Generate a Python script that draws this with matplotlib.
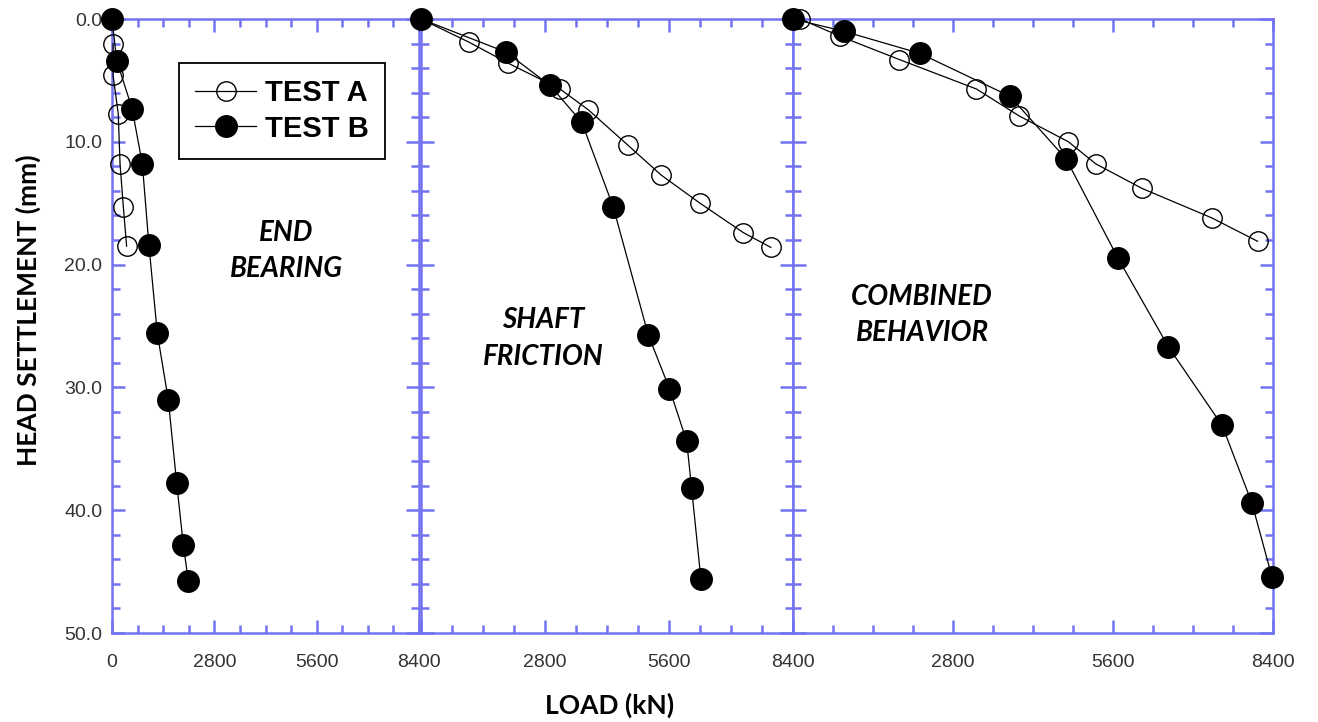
import matplotlib.pyplot as plt
from matplotlib.ticker import MultipleLocator, FixedLocator, FixedFormatter

# load (kN) and head settlement (mm)
eb_load_a = [30, 30, 170, 220, 310, 400]
eb_set_a = [2.0, 4.6, 7.7, 11.8, 15.3, 18.5]
eb_load_b = [0, 130, 550, 830, 1010, 1240, 1540, 1770, 1950, 2090]
eb_set_b = [0.0, 3.4, 7.3, 11.8, 18.4, 25.6, 31.0, 37.8, 42.8, 45.8]

sf_load_a = [0, 1090, 1970, 3140, 3780, 4680, 5420, 6300, 7280, 7900]
sf_set_a = [0.0, 1.9, 3.6, 5.7, 7.4, 10.3, 12.7, 15.0, 17.4, 18.6]
sf_load_b = [0, 1920, 2910, 3630, 4340, 5130, 5610, 6000, 6110, 6320]
sf_set_b = [0.0, 2.7, 5.4, 8.4, 15.3, 25.7, 30.1, 34.4, 38.2, 45.6]

cb_load_a = [130, 820, 1860, 3210, 3960, 4820, 5300, 6110, 7330, 8130]
cb_set_a = [0.0, 1.4, 3.3, 5.7, 7.9, 10.0, 11.8, 13.8, 16.2, 18.1]
cb_load_b = [0, 890, 2220, 3800, 4780, 5690, 6570, 7510, 8030, 8380]
cb_set_b = [0.0, 1.0, 2.8, 6.3, 11.4, 19.5, 26.7, 33.1, 39.4, 45.4]

panels = [
    (eb_load_a, eb_set_a, eb_load_b, eb_set_b, 'END\nBEARING', 4760, 18.9),
    (sf_load_a, sf_set_a, sf_load_b, sf_set_b, 'SHAFT\nFRICTION', 2760, 26.0),
    (cb_load_a, cb_set_a, cb_load_b, cb_set_b, 'COMBINED\nBEHAVIOR', 2260, 24.1),
]
xticks = [0, 2800, 5600, 8400]
yticks = [0, 10, 20, 30, 40, 50]

W, H = 1318, 722
blue = '#7373f2'
lefts = [112, 421, 793]
widths = [307, 372, 480]
top, bottom = 19, 633

fig = plt.figure(figsize=(W / 100, H / 100), dpi=100)
fig.patch.set_facecolor('white')

for i, (la, sa, lb, sb, note, nx, ny) in enumerate(panels):
    ax = fig.add_axes([lefts[i] / W, 1 - bottom / H, widths[i] / W, (bottom - top) / H])
    ax.plot(la, sa, '-o', color='black', lw=0.9, ms=14, mfc='none', mec='black',
            mew=1.0, clip_on=False, label='TEST A', zorder=3)
    ax.plot(lb, sb, '-o', color='black', lw=0.9, ms=15.5, mfc='black', mec='black',
            clip_on=False, label='TEST B', zorder=4)
    ax.set_xlim(0, 8400)
    ax.set_ylim(50, 0)
    ax.xaxis.set_major_locator(FixedLocator(xticks))
    ax.xaxis.set_minor_locator(MultipleLocator(700))
    ax.yaxis.set_major_locator(FixedLocator(yticks))
    ax.yaxis.set_minor_locator(MultipleLocator(2))
    if i == 0:
        ax.xaxis.set_major_formatter(FixedFormatter([str(t) for t in xticks]))
        ax.yaxis.set_major_formatter(FixedFormatter(['%.1f' % t for t in yticks]))
    else:
        ax.xaxis.set_major_formatter(FixedFormatter([''] + [str(t) for t in xticks[1:]]))
        ax.yaxis.set_major_formatter(FixedFormatter([''] * len(yticks)))
    ax.tick_params(which='both', direction='in', top=True, right=True,
                   color=blue, width=1.8, labelsize=14, labelcolor='#333333',
                   labelfontfamily='Liberation Sans')
    ax.tick_params(which='major', length=9.5)
    ax.tick_params(which='minor', length=5.8)
    ax.tick_params(axis='x', pad=15)
    ax.tick_params(axis='y', pad=7)
    for s in ax.spines.values():
        s.set_color(blue)
        s.set_linewidth(1.8)
    ax.text(nx, ny, note, ha='center', va='center', fontsize=20,
            fontweight='bold', fontstyle='italic', family='Lato', linespacing=1.5)
    if i == 0:
        leg = ax.legend(loc='upper left', bbox_to_anchor=(0.218, 0.928), borderaxespad=0,
                        fancybox=False, edgecolor='black', framealpha=1,
                        prop={'family': 'Liberation Sans', 'weight': 'bold', 'size': 21},
                        handlelength=2.1, handletextpad=0.3, labelspacing=0.25,
                        borderpad=0.55)
        leg.get_frame().set_linewidth(1.3)

fig.text(28 / W, 1 - 310 / H, 'HEAD SETTLEMENT (mm)', rotation=90, ha='center',
         va='center', fontsize=19, fontweight='bold', family='Lato')
fig.text(610 / W, 1 - 705 / H, 'LOAD (kN)', ha='center', va='center',
         fontsize=19, fontweight='bold', family='Lato')

fig.savefig('out.png', dpi=100)
